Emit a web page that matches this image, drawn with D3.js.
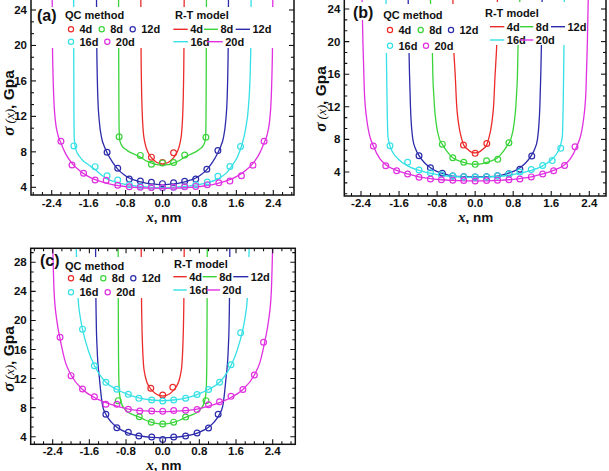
<!DOCTYPE html>
<html><head><meta charset="utf-8">
<script src="https://cdn.jsdelivr.net/npm/d3@7"></script>
<style>
body{margin:0;background:#fff}
svg{display:block}
text{font-family:Arial,"Liberation Sans",sans-serif;font-weight:bold;fill:#111}
</style>
</head><body>
<svg id="chart" width="609" height="471"></svg>
<script>
// ---------------- data ----------------
const series = ["4d","8d","12d","16d","20d"];
const colors = ["#ec2b2b","#3ad43a","#2b2bab","#35e0e6","#e030e0"];
const xTicks = [-2.4,-1.6,-0.8,0,0.8,1.6,2.4];
const yTicksAB = [4,8,12,16,20,24];
const yTicksC = [4,8,12,16,20,24,28];

// Panel (a) R-T model curves  [x (nm), sigma (GPa)]
const aRT4 = [[-0.47,26],[-0.465,20],[-0.455,15.5],[-0.44,12.5],[-0.42,10.5],[-0.38,9.0],[-0.32,8.0],[-0.24,7.35],[-0.16,6.95],[-0.08,6.72],[0,6.65],[0.08,6.72],[0.16,6.95],[0.24,7.35],[0.32,8.0],[0.38,9.0],[0.42,10.5],[0.44,12.5],[0.455,15.5],[0.465,20],[0.47,26]];
const aRT8 = [[-0.952,26],[-0.948,18],[-0.944,13],[-0.938,10.3],[-0.925,9.3],[-0.88,8.7],[-0.8,8.3],[-0.72,8.0],[-0.6,7.7],[-0.48,7.4],[-0.36,7.0],[-0.24,6.75],[-0.12,6.55],[0,6.5],[0.12,6.55],[0.24,6.75],[0.36,7.0],[0.48,7.4],[0.6,7.7],[0.72,8.0],[0.8,8.3],[0.88,8.7],[0.925,9.3],[0.938,10.3],[0.944,13],[0.948,18],[0.952,26]];
const aRT12 = [[-1.43,26],[-1.425,21],[-1.415,17],[-1.4,14],[-1.37,11.5],[-1.32,9.6],[-1.26,8.6],[-1.2,7.9],[-1.08,6.8],[-0.96,6.0],[-0.84,5.45],[-0.72,5.05],[-0.6,4.8],[-0.48,4.6],[-0.36,4.47],[-0.24,4.38],[-0.12,4.32],[0,4.3],[0.12,4.32],[0.24,4.38],[0.36,4.47],[0.48,4.6],[0.6,4.8],[0.72,5.05],[0.84,5.45],[0.96,6.0],[1.08,6.8],[1.2,7.9],[1.26,8.6],[1.32,9.6],[1.37,11.5],[1.4,14],[1.415,17],[1.425,21],[1.43,26]];
const aRT16 = [[-1.925,26],[-1.922,18],[-1.918,12],[-1.91,9.4],[-1.88,8.3],[-1.8,7.5],[-1.72,7.0],[-1.62,6.6],[-1.46,6.0],[-1.3,5.3],[-1.2,4.95],[-0.96,4.5],[-0.72,4.25],[-0.48,4.1],[-0.24,4.0],[0,3.97],[0.24,4.0],[0.48,4.1],[0.72,4.25],[0.96,4.5],[1.2,4.95],[1.38,5.6],[1.5,6.4],[1.62,7.4],[1.72,8.8],[1.8,10.6],[1.86,13],[1.9,17],[1.915,21],[1.92,26]];
const aRT20 = [[-2.39,26],[-2.385,21],[-2.37,16.5],[-2.35,13.5],[-2.32,11.5],[-2.27,10.0],[-2.2,9.0],[-2.1,7.8],[-1.96,6.7],[-1.8,5.9],[-1.6,5.2],[-1.4,4.75],[-1.2,4.45],[-0.96,4.2],[-0.72,4.05],[-0.48,3.95],[-0.24,3.9],[0,3.88],[0.24,3.9],[0.48,3.95],[0.72,4.05],[0.96,4.2],[1.2,4.45],[1.4,4.75],[1.6,5.2],[1.8,5.9],[1.96,6.7],[2.1,7.8],[2.2,9.0],[2.27,10.0],[2.32,11.5],[2.35,13.5],[2.37,16.5],[2.385,21],[2.39,26]];
// Panel (a) QC method points
const aQC4 = [[-0.24,7.4],[0,6.8],[0.24,7.9]];
const aQC8 = [[-0.94,9.7],[-0.48,7.6],[-0.24,6.6],[0,6.75],[0.24,6.8],[0.48,7.65],[0.94,9.65]];
const aQC12 = [[-1.2,7.95],[-0.97,6.15],[-0.72,4.94],[-0.48,4.71],[-0.24,4.56],[0,4.41],[0.24,4.5],[0.48,4.67],[0.72,4.94],[0.96,6.03],[1.2,8.14]];
const aQC16 = [[-1.92,8.67],[-1.46,6.33],[-1.2,5.31],[-0.97,4.83],[-0.72,4.3],[-0.48,4.1],[-0.24,4.0],[0,3.96],[0.24,4.0],[0.48,4.1],[0.72,4.3],[0.97,4.6],[1.2,5.25],[1.46,6.35],[1.69,8.6]];
const aQC20 = [[-2.2,9.2],[-1.96,6.52],[-1.71,5.58],[-1.46,4.82],[-1.22,4.79],[-0.97,4.23],[-0.72,4.07],[-0.48,4.0],[-0.24,3.97],[0,3.97],[0.24,4.0],[0.48,4.05],[0.72,4.1],[0.97,4.3],[1.22,4.5],[1.46,4.7],[1.71,5.3],[1.96,6.5],[2.2,9.2]];

// Panel (b)
const bRT4 = [[-0.47,26],[-0.455,20],[-0.44,18],[-0.42,16],[-0.39,12.3],[-0.35,10],[-0.28,8],[-0.24,7.3],[-0.16,6.8],[-0.08,6.45],[0,6.35],[0.08,6.45],[0.16,6.8],[0.24,7.3],[0.28,8],[0.35,10],[0.39,12.3],[0.42,16],[0.44,18],[0.455,20],[0.47,26]];
const bRT8 = [[-0.945,26],[-0.92,22],[-0.9,19],[-0.89,16],[-0.87,13.5],[-0.855,12],[-0.82,10],[-0.75,8],[-0.69,7.4],[-0.6,6.6],[-0.47,5.75],[-0.36,5.4],[-0.24,5.19],[-0.12,5.0],[0,4.95],[0.12,5.0],[0.24,5.19],[0.36,5.4],[0.47,5.75],[0.6,6.6],[0.69,7.4],[0.75,8],[0.82,10],[0.855,12],[0.87,13.5],[0.89,16],[0.9,19],[0.92,22],[0.945,26]];
const bRT12 = [[-1.41,26],[-1.395,20],[-1.38,16],[-1.36,12],[-1.31,8],[-1.25,6.8],[-1.18,6.0],[-1.06,5.1],[-0.94,4.53],[-0.82,4.1],[-0.69,3.84],[-0.47,3.5],[-0.24,3.43],[0,3.4],[0.24,3.43],[0.47,3.5],[0.69,3.84],[0.82,4.1],[0.94,4.53],[1.06,5.1],[1.18,6.0],[1.25,6.8],[1.31,8],[1.36,12],[1.38,16],[1.395,20],[1.41,26]];
const bRT16 = [[-1.875,26],[-1.865,18],[-1.85,12],[-1.835,8.5],[-1.8,7.4],[-1.72,6.3],[-1.62,5.6],[-1.42,4.75],[-1.18,4.2],[-0.94,3.85],[-0.71,3.6],[-0.47,3.45],[-0.24,3.38],[0,3.35],[0.24,3.38],[0.47,3.45],[0.71,3.6],[0.94,3.85],[1.18,4.2],[1.42,4.75],[1.62,5.6],[1.72,6.3],[1.8,7.4],[1.835,8.5],[1.85,12],[1.865,18],[1.875,26]];
const bRT20 = [[-2.38,26],[-2.36,20],[-2.33,14],[-2.28,10.5],[-2.22,8.5],[-2.14,7.2],[-2.0,5.6],[-1.88,4.9],[-1.65,4.2],[-1.42,3.78],[-1.18,3.4],[-0.94,3.2],[-0.71,3.05],[-0.47,2.97],[-0.24,2.92],[0,2.9],[0.24,2.92],[0.47,2.97],[0.71,3.05],[0.94,3.2],[1.18,3.4],[1.42,3.78],[1.65,4.2],[1.88,4.9],[2.0,5.6],[2.14,7.2],[2.22,8.5],[2.28,10.5],[2.33,14],[2.36,20],[2.38,26]];
const bQC4 = [[-0.246,7.3],[0,6.29],[0.245,7.5]];
const bQC8 = [[-0.69,7.42],[-0.47,5.75],[-0.24,5.19],[0,4.94],[0.24,5.38],[0.475,5.55],[0.71,7.58]];
const bQC12 = [[-1.18,6.0],[-0.94,4.53],[-0.69,3.84],[-0.47,3.5],[-0.24,3.43],[0,3.4],[0.24,3.43],[0.47,3.55],[0.71,3.8],[0.94,4.33],[1.19,5.96]];
const bQC16 = [[-1.79,7.22],[-1.42,5.19],[-1.18,4.24],[-0.94,3.9],[-0.71,3.65],[-0.47,3.5],[-0.24,3.4],[0,3.35],[0.24,3.4],[0.47,3.55],[0.71,3.75],[0.94,4.0],[1.18,4.3],[1.42,4.8],[1.62,5.4],[1.8,6.9]];
const bQC20 = [[-2.14,7.18],[-1.88,4.77],[-1.65,4.16],[-1.42,3.76],[-1.18,3.35],[-0.94,3.14],[-0.71,3.05],[-0.47,3.0],[-0.24,2.95],[0,2.9],[0.24,2.95],[0.47,3.0],[0.71,3.05],[0.94,3.14],[1.18,3.4],[1.42,3.76],[1.65,4.16],[1.88,4.8],[2.1,7.1]];

// Panel (c)
const cRT4 = [[-0.47,31],[-0.465,25],[-0.455,20],[-0.44,16.5],[-0.42,14],[-0.39,12.6],[-0.35,11.6],[-0.3,10.9],[-0.24,10.4],[-0.16,9.95],[-0.08,9.7],[0,9.6],[0.08,9.7],[0.16,9.95],[0.24,10.4],[0.3,10.9],[0.35,11.6],[0.39,12.6],[0.42,14],[0.44,16.5],[0.455,20],[0.465,25],[0.47,31]];
const cRT8 = [[-0.972,31],[-0.97,24],[-0.965,16],[-0.955,11.5],[-0.94,9.8],[-0.9,8.6],[-0.84,7.9],[-0.76,7.4],[-0.64,7.0],[-0.51,6.7],[-0.38,6.3],[-0.25,6.0],[-0.12,5.8],[0,5.75],[0.12,5.8],[0.25,6.0],[0.38,6.3],[0.51,6.7],[0.64,7.0],[0.76,7.4],[0.84,7.9],[0.9,8.6],[0.94,9.8],[0.955,11.5],[0.965,16],[0.97,24],[0.972,31]];
const cRT12 = [[-1.465,31],[-1.46,25],[-1.45,20],[-1.43,16],[-1.38,12],[-1.31,8.2],[-1.24,7.1],[-1.12,6.0],[-1.0,5.3],[-0.75,4.5],[-0.5,4.1],[-0.24,3.9],[0,3.85],[0.24,3.9],[0.5,4.1],[0.75,4.5],[1.0,5.3],[1.12,6.0],[1.24,7.1],[1.31,8.2],[1.38,12],[1.43,16],[1.45,20],[1.46,25],[1.465,31]];
const cRT16 = [[-1.89,31],[-1.87,26],[-1.84,22.5],[-1.8,20.5],[-1.75,18.8],[-1.62,15.8],[-1.49,13.8],[-1.36,12.4],[-1.24,11.5],[-1.0,10.5],[-0.75,9.8],[-0.5,9.3],[-0.24,9.05],[0,8.95],[0.24,9.05],[0.5,9.3],[0.75,9.8],[1.0,10.5],[1.24,11.5],[1.36,12.4],[1.49,13.8],[1.62,15.8],[1.75,18.8],[1.8,20.5],[1.84,22.5],[1.87,26],[1.89,31]];
const cRT20 = [[-2.4,30.5],[-2.37,24],[-2.31,20],[-2.24,17.5],[-2.12,14.2],[-2.0,12.5],[-1.75,10.5],[-1.49,9.4],[-1.24,8.7],[-1.0,8.2],[-0.75,7.8],[-0.5,7.6],[-0.24,7.5],[0,7.45],[0.24,7.5],[0.5,7.6],[0.75,7.8],[1.0,8.2],[1.24,8.7],[1.49,9.4],[1.75,10.5],[2.0,12.5],[2.12,14.2],[2.24,17.5],[2.31,20],[2.37,24],[2.4,30.5]];
const cQC4 = [[-0.26,10.66],[0,9.74],[0.22,10.8]];
const cQC8 = [[-0.97,8.96],[-0.51,6.75],[-0.25,5.98],[0,5.75],[0.24,6.0],[0.5,6.7],[0.945,8.96]];
const cQC12 = [[-1.24,7.08],[-1.0,5.24],[-0.75,4.6],[-0.52,4.1],[-0.24,3.96],[0,3.63],[0.24,3.96],[0.5,4.1],[0.75,4.5],[1.0,5.2],[1.21,7.08]];
const cQC16 = [[-1.75,18.8],[-1.49,13.77],[-1.24,11.48],[-1.0,10.52],[-0.75,9.83],[-0.52,9.28],[-0.24,9.05],[0,8.91],[0.24,9.05],[0.5,9.3],[0.75,9.8],[1.0,10.5],[1.24,11.5],[1.49,13.9],[1.7,18.3]];
const cQC20 = [[-2.24,17.68],[-2.0,12.4],[-1.75,10.57],[-1.49,9.5],[-1.24,8.46],[-1.0,8.46],[-0.75,7.77],[-0.5,7.54],[-0.24,7.54],[0,7.5],[0.24,7.6],[0.5,7.65],[0.75,7.75],[1.0,8.4],[1.24,8.8],[1.49,9.55],[1.75,10.5],[2.0,12.5],[2.2,17.0]];

// ---------------- layout ----------------
const panels = [
  {label:"(a)", frame:[31,294,-1,195], xr:[51.7,273.3], yd:[4,24], yr:[187.3,10], yTicks:yTicksAB, topAxis:false,
   rt:[aRT4,aRT8,aRT12,aRT16,aRT20], qc:[aQC4,aQC8,aQC12,aQC16,aQC20],
   boxes:[[40,7,246,41]], lab:[37,21], qcTitle:[65,19],
   qcPos:[[71,29.3],[101.7,29.3],[132.7,29.3],[71,41.7],[107.3,41.7]],
   rtTitle:[175,19], rtPos:[[173.3,187.7,29.3],[204,218,29.3],[235.7,250,29.3],[173.3,188,41.7],[207,222.7,41.7]],
   xLabY:207, xTitle:[164,222], yTitle:[14,103]},
  {label:"(b)", frame:[344.3,606,-1,196], xr:[361,589.3], yd:[4,24], yr:[172,9], yTicks:yTicksAB, topAxis:false,
   rt:[bRT4,bRT8,bRT12,bRT16,bRT20], qc:[bQC4,bQC8,bQC12,bQC16,bQC20],
   boxes:[[350,2,26,18],[379,4,103,49],[483,2,102,43]], lab:[353,18], qcTitle:[383.3,19],
   qcPos:[[390,30],[420.7,30],[451,30],[390,45.7],[426,45.7]],
   rtTitle:[485,17], rtPos:[[490,504.3,26.7],[520,533.3,26.7],[551,565,26.7],[490,504.3,40],[520,533.3,40]],
   xLabY:207, xTitle:[475.7,222], yTitle:[326,99]},
  {label:"(c)", frame:[30.7,295.3,248.3,444.3], xr:[52.7,272.7], yd:[4,28], yr:[436.7,262.3], yTicks:yTicksC, topAxis:true,
   rt:[cRT4,cRT8,cRT12,cRT16,cRT20], qc:[cQC4,cQC8,cQC12,cQC16,cQC20],
   boxes:[[61,257,206,41]], lab:[40,266], qcTitle:[65,270],
   qcPos:[[71,278.3],[103.3,278.3],[133.3,278.3],[71,292.3],[107.7,292.3]],
   rtTitle:[174,268], rtPos:[[173.3,186.7,276.7],[202.7,216.7,276.7],[233.3,248.3,276.7],[173.3,186.7,290],[206.7,220,290]],
   xLabY:455, xTitle:[164,469.5], yTitle:[14,359]}
];

const svg = d3.select("#chart");
svg.append("rect").attr("width",609).attr("height",471).attr("fill","#fff");

panels.forEach((p,pi) => {
  const [x0,x1,y0,y1] = p.frame;
  const x = d3.scaleLinear().domain([-2.4,2.4]).range(p.xr);
  const y = d3.scaleLinear().domain(p.yd).range(p.yr);
  const g = svg.append("g");
  const cid = "clip"+pi;
  g.append("clipPath").attr("id",cid).append("rect")
    .attr("x",x0).attr("y",y0).attr("width",x1-x0).attr("height",y1-y0);
  const plot = g.append("g").attr("clip-path",`url(#${cid})`);

  const line = d3.line().x(d=>x(d[0])).y(d=>y(d[1])).curve(d3.curveMonotoneX);
  p.rt.forEach((data,i)=>{
    plot.append("path").datum(data).attr("d",line)
      .attr("fill","none").attr("stroke",colors[i]).attr("stroke-width",1.3);
  });
  p.qc.forEach((data,i)=>{
    plot.selectAll(null).data(data).enter().append("circle")
      .attr("cx",d=>x(d[0])).attr("cy",d=>y(d[1])).attr("r",2.9)
      .attr("fill","none").attr("stroke",colors[i]).attr("stroke-width",1.2);
  });

  p.boxes.forEach(b=>{
    plot.append("rect").attr("x",b[0]).attr("y",b[1]).attr("width",b[2]).attr("height",b[3]).attr("fill","#fff");
  });

  const xMin = x.invert(x0), xMax = x.invert(x1);
  const xMinor = d3.range(-28,29).map(k=>k*0.2).filter(v=>v>xMin && v<xMax);
  const yMin = y.invert(y1), yMax = y.invert(y0);
  const yMinor = d3.range(-6,30).map(k=>4+k*4/3).filter(v=>v>yMin && v<yMax);
  const tg = g.append("g").attr("stroke","#111").attr("stroke-width",1.1).attr("clip-path",`url(#${cid})`);
  xMinor.forEach(v=>{
    const major = xTicks.some(t=>Math.abs(t-v)<1e-6);
    const L = major?5:3;
    tg.append("line").attr("x1",x(v)).attr("x2",x(v)).attr("y1",y1).attr("y2",y1-L);
    if (p.topAxis) tg.append("line").attr("x1",x(v)).attr("x2",x(v)).attr("y1",y0).attr("y2",y0+L);
  });
  yMinor.forEach(v=>{
    const major = p.yTicks.some(t=>Math.abs(t-v)<1e-6);
    const L = major?5:3;
    tg.append("line").attr("x1",x0).attr("x2",x0+L).attr("y1",y(v)).attr("y2",y(v));
    tg.append("line").attr("x1",x1).attr("x2",x1-L).attr("y1",y(v)).attr("y2",y(v));
  });

  g.append("rect").attr("x",x0).attr("y",y0).attr("width",x1-x0).attr("height",y1-y0)
    .attr("fill","none").attr("stroke","#111").attr("stroke-width",1.5);

  xTicks.forEach(t=>{
    g.append("text").attr("x",x(t)).attr("y",p.xLabY).attr("text-anchor","middle")
      .attr("font-size",11.5).text(t.toFixed(1));
  });
  p.yTicks.forEach(t=>{
    g.append("text").attr("x",x0-4).attr("y",y(t)+4).attr("text-anchor","end")
      .attr("font-size",11.5).text(t);
  });

  const xt = g.append("text").attr("x",p.xTitle[0]).attr("y",p.xTitle[1]).attr("text-anchor","middle").attr("font-size",13.5);
  xt.append("tspan").attr("font-family","'Times New Roman','Liberation Serif',serif").attr("font-style","italic").attr("font-size",15).text("x");
  xt.append("tspan").text(", nm");
  const yt = g.append("text").attr("transform",`translate(${p.yTitle[0]},${p.yTitle[1]}) rotate(-90)`)
    .attr("text-anchor","middle").attr("font-size",15.5);
  yt.append("tspan").attr("font-family","'Times New Roman','Liberation Serif',serif").attr("font-style","italic").attr("font-size",17).text("σ");
  yt.append("tspan").attr("font-family","'Times New Roman','Liberation Serif',serif").attr("font-style","italic").attr("font-weight","normal").attr("font-size",13).text(" (x)");
  yt.append("tspan").text(", Gpa");

  g.append("text").attr("x",p.lab[0]).attr("y",p.lab[1]).attr("font-size",16).text(p.label);
  g.append("text").attr("x",p.qcTitle[0]).attr("y",p.qcTitle[1]).attr("font-size",11).text("QC method");
  g.append("text").attr("x",p.rtTitle[0]).attr("y",p.rtTitle[1]).attr("font-size",11).text("R-T model");
  series.forEach((s,i)=>{
    const q = p.qcPos[i];
    g.append("circle").attr("cx",q[0]).attr("cy",q[1]).attr("r",2.6)
      .attr("fill","none").attr("stroke",colors[i]).attr("stroke-width",1.2);
    g.append("text").attr("x",q[0]+8.5).attr("y",q[1]+4).attr("font-size",11).text(s);
    const r = p.rtPos[i];
    g.append("line").attr("x1",r[0]).attr("x2",r[1]).attr("y1",r[2]).attr("y2",r[2])
      .attr("stroke",colors[i]).attr("stroke-width",1.4);
    g.append("text").attr("x",r[1]+2.5).attr("y",r[2]+4).attr("font-size",11).text(s);
  });
});
</script>
</body></html>
